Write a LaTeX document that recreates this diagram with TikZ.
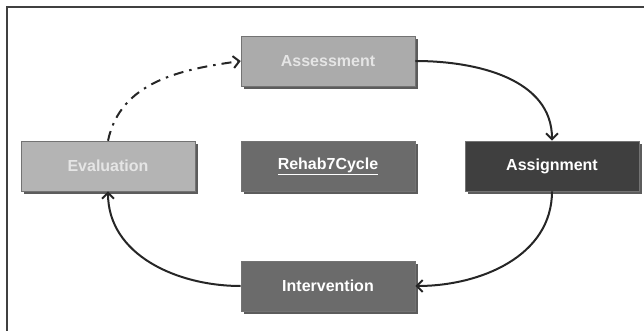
\documentclass[tikz,border=0pt]{standalone}
\usepackage{fontspec}
\setmainfont{Liberation Sans}
\usepackage{tikz}
\usepackage{xcolor}
\usetikzlibrary{arrows.meta,shadows}

\definecolor{boxlight}{HTML}{ABABAB}
\definecolor{boxpale}{HTML}{B4B4B4}
\definecolor{boxmid}{HTML}{6B6B6B}
\definecolor{boxdark}{HTML}{3F3F3F}

\begin{document}
\begin{tikzpicture}[x=1pt, y=-1pt,
    box/.style={draw=black!55, line width=0.6pt, minimum width=174pt, minimum height=50pt, inner sep=0pt,
        text=white, font=\fontsize{16}{19}\selectfont\bfseries,
        drop shadow={shadow xshift=2.5pt, shadow yshift=-3pt, fill=black!75, opacity=0.85}},
    link/.style={line width=2pt, black!85, -{Straight Barb[length=6pt,width=12pt,line width=2pt]}}]
    \useasboundingbox (0,0) rectangle (644,331);
    \draw[line width=2pt, black!75] (7,331) -- (7,7) -- (644,7);
    \node[box, fill=boxlight, text=white!90!black] (assess) at (328,61) {Assessment};
    \node[box, fill=boxpale, text=white!90!black] (eval) at (108,166) {Evaluation};
    \node[box, fill=boxmid] (cycle) at (328,166) {\underline{Rehab7Cycle}};
    \node[box, fill=boxdark] (assign) at (552,166) {Assignment};
    \node[box, fill=boxmid] (interv) at (328,286) {Intervention};
	\draw[link] (assess.east) to[out=0, in=90] (assign.north);
	\draw[link] (assign.south) to[out=-90, in=0] (interv.east);
	\draw[link] (interv.west) to[out=180, in=-90] (eval.south);
	\draw[link, dash pattern=on 10pt off 6pt on 2.5pt off 6pt] (eval.north) to[out=78, in=188] (assess.west);
\end{tikzpicture}
\end{document}
